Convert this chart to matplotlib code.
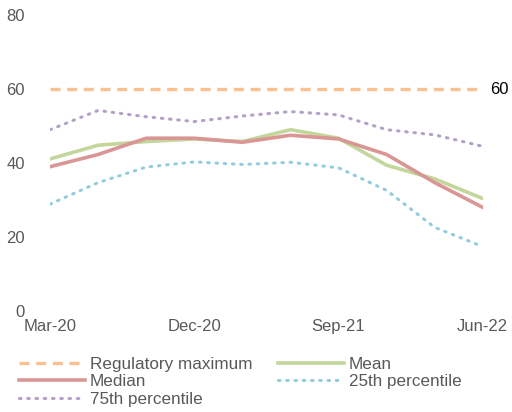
import matplotlib.pyplot as plt

plt.rcParams['font.family'] = ['Liberation Sans', 'DejaVu Sans']

# Квартальные данные
quarters = ['Mar-20', 'Jun-20', 'Sep-20', 'Dec-20', 'Mar-21',
            'Jun-21', 'Sep-21', 'Dec-21', 'Mar-22', 'Jun-22']
regulatory_max = [60] * 10
mean = [41.1, 44.8, 45.8, 46.5, 45.8, 49.0, 46.7, 39.4, 35.7, 30.4]
median = [39.0, 42.3, 46.7, 46.7, 45.6, 47.5, 46.5, 42.3, 34.7, 28.0]
p25 = [28.9, 34.7, 38.9, 40.3, 39.6, 40.2, 38.7, 32.6, 22.6, 17.4]
p75 = [49.0, 54.2, 52.5, 51.2, 52.7, 53.9, 53.0, 49.0, 47.6, 44.5]

tick_labels = ['Mar-20', 'Dec-20', 'Sep-21', 'Jun-22']
y_ticks = [0, 20, 40, 60, 80]

fig = plt.figure(figsize=(5.12, 4.12), dpi=100)
ax = fig.add_axes([0.0977, 0.2451, 0.8453, 0.7185])

x = list(range(len(quarters)))
l_reg, = ax.plot(x, regulatory_max, color='#FAC090', lw=2.4, ls=(0, (3, 2)),
                 label='Regulatory maximum')
l_mean, = ax.plot(x, mean, color='#C3D69B', lw=2.6, label='Mean')
l_med, = ax.plot(x, median, color='#D99694', lw=2.6, label='Median')
l_25, = ax.plot(x, p25, color='#93CDDD', lw=2.2, ls=(0, (0.5, 2.2)),
                dash_capstyle='round', label='25th percentile')
l_75, = ax.plot(x, p75, color='#B3A2C7', lw=2.2, ls=(0, (0.5, 2.2)),
                dash_capstyle='round', label='75th percentile')

ax.text(9.15, 60, '60', fontsize=12, color='black', va='center', ha='left')

ax.set_xlim(0, 9)
ax.set_ylim(0, 80)
ax.set_xticks([quarters.index(t) for t in tick_labels])
ax.set_xticklabels(tick_labels)
ax.set_yticks(y_ticks)
ax.tick_params(axis='both', length=0, labelsize=12, colors='#595959')
ax.tick_params(axis='y', pad=18)
ax.tick_params(axis='x', pad=6)
for s in ax.spines.values():
    s.set_visible(False)

ax.legend(handles=[l_reg, l_med, l_75, l_mean, l_25], ncol=2,
          loc='upper left', bbox_to_anchor=(-0.092, -0.125), frameon=False,
          fontsize=12.3, handlelength=3.85, handletextpad=0.3,
          labelspacing=0.15, columnspacing=1.5, borderpad=0,
          labelcolor='#595959')

fig.savefig('out.png', dpi=100)
